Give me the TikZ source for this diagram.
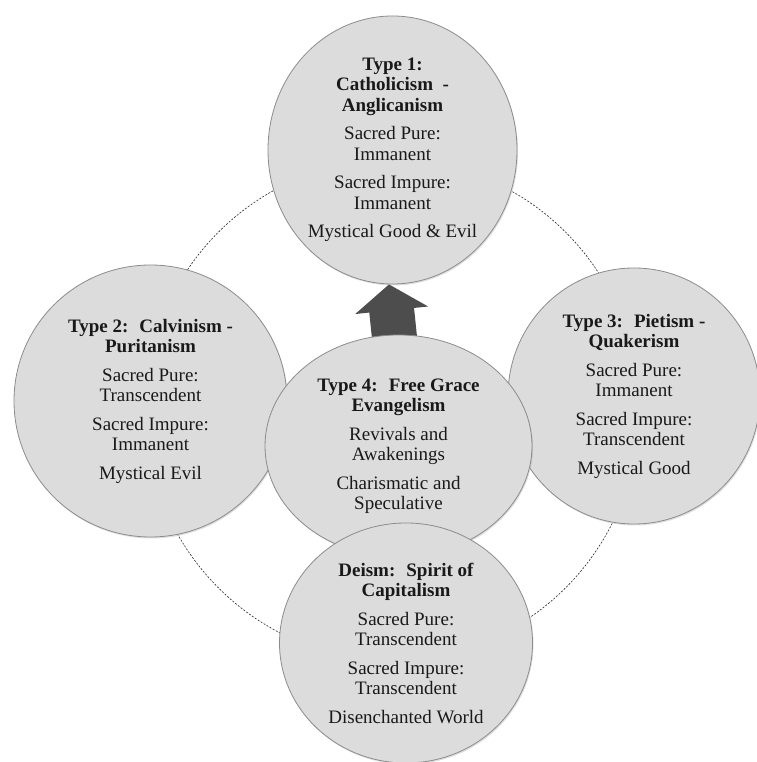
\documentclass[tikz,border=0pt]{standalone}
\usepackage{fontspec}
\setmainfont{Liberation Serif}
\usetikzlibrary{shapes.geometric,arrows.meta,backgrounds,shadows}

\definecolor{bubblegray}{HTML}{DCDCDC}
\definecolor{rimgray}{HTML}{8C8C8C}
\definecolor{arrowgray}{HTML}{4D4D4D}

\tikzset{
  bubble/.style={ellipse, draw=rimgray, line width=0.8pt, fill=bubblegray,
    inner sep=0pt, align=center, text=black!90,
    font=\fontsize{19}{20.5}\selectfont,
    drop shadow={shadow xshift=1pt, shadow yshift=-1.5pt, opacity=0.25}},
  ring/.style={draw=black!85, line width=0.6pt, dash pattern=on 2pt off 1.5pt},
  uparrow/.style={draw=arrowgray, line width=45pt, line cap=butt,
    -{Triangle[width=72pt, length=26pt]}},
}

\begin{document}
\begin{tikzpicture}[x=1pt, y=1pt]
    \useasboundingbox (0,0) rectangle (756,762);

    \node[bubble, minimum width=249pt, minimum height=268pt] (type1) at (392.5,612)
        {\textbf{Type 1:}\\ \textbf{Catholicism~ -}\\ \textbf{Anglicanism}\\[8pt]
         Sacred Pure:\\ Immanent\\[8pt] Sacred Impure:\\ Immanent\\[8pt]
         Mystical Good \& Evil};
    \node[bubble, minimum width=273pt, minimum height=272pt] (type2) at (150.5,361)
        {\textbf{Type 2:~ Calvinism -}\\ \textbf{Puritanism}\\[8pt]
         Sacred Pure:\\ Transcendent\\[8pt] Sacred Impure:\\ Immanent\\[8pt]
         Mystical Evil};
    \node[bubble, minimum width=252pt, minimum height=256pt] (type3) at (634,366)
        {\textbf{Type 3:~ Pietism -}\\ \textbf{Quakerism}\\[8pt]
         Sacred Pure:\\ Immanent\\[8pt] Sacred Impure:\\ Transcendent\\[8pt]
         Mystical Good};
    \node[bubble, minimum width=267pt, minimum height=222pt] (type4) at (398.5,316)
        {\textbf{Type 4:~ Free Grace}\\ \textbf{Evangelism}\\[8pt]
         Revivals and\\ Awakenings\\[8pt] Charismatic and\\ Speculative};
    \node[bubble, minimum width=253pt, minimum height=240pt] (deism) at (406,119)
        {\textbf{Deism:~ Spirit of}\\ \textbf{Capitalism}\\[8pt]
         Sacred Pure:\\ Transcendent\\[8pt] Sacred Impure:\\ Transcendent\\[8pt]
         Disenchanted World};

    \begin{scope}[on background layer]
        % dashed cycle behind the bubbles
        \draw[ring] (392,352) ellipse [x radius=247pt, y radius=250pt];
        % block arrow from type 4 up to type 1
        \draw[uparrow] ([xshift=-3.5pt, yshift=-8pt]type4.north) -- ([xshift=-3.5pt]type1.south);
    \end{scope}
\end{tikzpicture}
\end{document}
